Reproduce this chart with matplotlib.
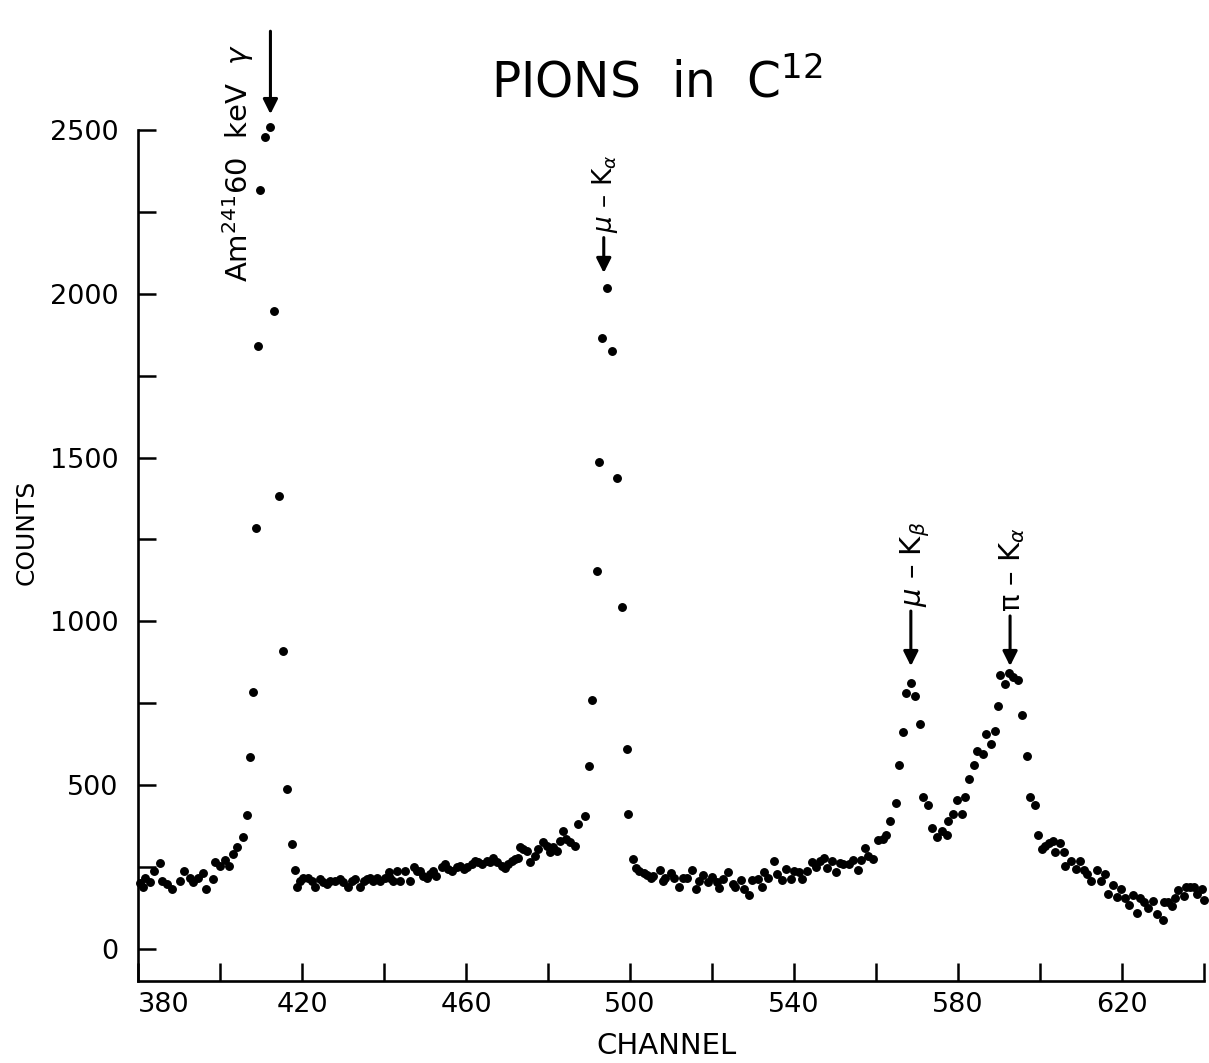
import numpy as np
import matplotlib
matplotlib.use('Agg')
import matplotlib.pyplot as plt

# ─── DATA ────────────────────────────────────────────────────────────────────
# pico Am241 + fundo 380-418
ch_am = [380.4, 381.1, 381.7, 382.9, 383.9, 385.4, 385.8, 387.0, 388.2, 390.2,
         391.3, 392.7, 393.5, 394.7, 395.9, 396.7, 398.4, 398.8, 400.0, 401.2,
         402.3, 403.2, 404.2, 405.5, 406.5, 407.3, 408.1, 408.9, 409.3, 409.8,
         411.0, 412.3, 413.1, 414.3, 415.4, 416.4, 417.5, 418.2]
ct_am = [200, 190, 218, 203, 237, 261, 208, 198, 182, 208,
         239, 218, 203, 218, 232, 184, 213, 266, 254, 271,
         254, 290, 310, 341, 410, 587, 784, 1285, 1840, 2317,
         2478, 2510, 1947, 1383, 909, 487, 321, 242]

# fundo 418-489
ch_bg1 = [418.7, 419.5, 420.3, 421.5, 422.4, 423.2, 424.4, 425.2, 426.0, 426.8,
          428.0, 429.3, 430.1, 431.3, 432.1, 432.9, 434.1, 435.0, 435.8, 436.6,
          437.4, 438.2, 439.0, 440.2, 441.1, 441.5, 442.3, 443.1, 443.9, 445.1,
          446.3, 447.2, 448.0, 448.8, 449.6, 450.4, 451.2, 452.0, 452.8, 454.1,
          454.9, 455.7, 456.5, 457.7, 458.5, 459.4, 460.2, 461.4, 462.2, 463.0,
          463.8, 465.0, 465.9, 466.7, 467.5, 468.7, 469.5, 470.3, 471.1, 471.9,
          472.8, 473.2, 474.0, 474.8, 475.6, 476.8, 477.6, 478.9, 479.7, 480.5,
          481.3, 482.1, 482.9, 483.7, 484.5, 485.4, 486.6, 487.4, 489.0]
ct_bg1 = [188, 208, 218, 218, 208, 188, 213, 203, 198, 208,
          208, 213, 203, 190, 208, 213, 190, 208, 213, 218,
          208, 218, 208, 218, 234, 218, 208, 239, 208, 239,
          208, 249, 239, 237, 223, 218, 228, 239, 223, 249,
          259, 244, 239, 249, 254, 244, 249, 259, 269, 264,
          259, 269, 264, 279, 264, 254, 247, 259, 269, 274,
          279, 310, 305, 300, 264, 285, 305, 325, 315, 295,
          310, 300, 330, 361, 336, 325, 315, 382, 407]

# pico mu-Ka
ch_mka = [490.1, 490.8, 491.9, 492.5, 493.1, 494.3, 495.7, 496.8, 498.0, 499.2, 499.6]
ct_mka = [557, 760, 1155, 1486, 1864, 2017, 1825, 1438, 1043, 611, 413]

# fundo 500-565
ch_bg2 = [500.7, 501.5, 502.3, 503.3, 504.1, 505.0, 505.7, 507.2, 508.0, 508.5,
          509.9, 510.7, 512.0, 513.0, 513.8, 515.0, 516.1, 516.8, 517.9, 519.1,
          519.9, 521.1, 521.8, 522.8, 524.0, 525.2, 525.6, 527.0, 527.8, 529.1,
          529.7, 531.1, 532.1, 532.7, 533.7, 535.0, 535.8, 537.0, 538.0, 539.2,
          540.0, 541.1, 541.9, 543.1, 544.3, 545.4, 546.3, 547.2, 548.1, 549.2,
          550.2, 551.2, 552.0, 553.3, 554.3, 555.7, 556.3, 557.3, 558.1, 559.3,
          560.6, 561.8, 562.4, 563.4, 564.9]
ct_bg2 = [274, 247, 239, 231, 227, 216, 223, 241, 206, 218,
          231, 216, 188, 216, 216, 241, 182, 208, 227, 203,
          221, 203, 186, 213, 234, 198, 188, 210, 182, 165,
          210, 213, 190, 234, 216, 267, 228, 210, 244, 213,
          239, 234, 213, 239, 264, 249, 267, 277, 246, 269,
          236, 261, 259, 259, 272, 241, 272, 308, 284, 274,
          333, 336, 349, 390, 445]

# picos mu-Kb e pi-Ka
ch_pk = [565.6, 566.5, 567.2, 568.5, 569.5, 570.7, 571.4, 572.8, 573.6, 574.8,
         576.0, 577.2, 577.6, 578.7, 579.7, 580.9, 581.7, 582.7, 583.9, 584.7,
         586.0, 586.8, 588.0, 589.0, 589.8, 590.2, 591.5, 592.5, 593.5, 594.7,
         595.7, 596.8, 597.6, 598.8, 599.6]
ct_pk = [562, 662, 782, 813, 771, 688, 463, 438, 369, 341,
         361, 348, 392, 412, 455, 412, 463, 519, 563, 603,
         596, 655, 626, 665, 741, 835, 810, 842, 830, 822,
         713, 588, 463, 438, 349]

# cauda 600-640
ch_tail = [600.4, 601.2, 602.3, 603.1, 603.7, 604.9, 605.9, 606.2, 607.5, 608.8,
           609.8, 610.7, 611.4, 612.4, 613.8, 614.9, 615.9, 616.7, 617.7, 618.9,
           619.7, 620.7, 621.7, 622.6, 623.6, 624.4, 625.4, 626.4, 627.6, 628.5,
           629.9, 630.2, 631.3, 632.1, 632.9, 633.7, 635.0, 635.5, 636.6, 637.6,
           638.4, 639.4, 640.0]
ct_tail = [305, 315, 322, 328, 295, 322, 295, 254, 269, 244,
           267, 241, 229, 208, 241, 208, 230, 167, 196, 157,
           183, 155, 135, 164, 110, 154, 142, 125, 145, 106,
           88, 142, 142, 132, 155, 180, 162, 188, 190, 188,
           167, 183, 149]

channel = np.array(ch_am + ch_bg1 + ch_mka + ch_bg2 + ch_pk + ch_tail)
counts = np.array(ct_am + ct_bg1 + ct_mka + ct_bg2 + ct_pk + ct_tail)

W, H = 1209, 1063
fig = plt.figure(figsize=(W / 100, H / 100), dpi=100)
ax = fig.add_axes([138 / W, 1 - 980.7 / H, (1204 - 138) / W, (980.7 - 130) / H])

ax.plot(channel, counts, 'o', color='k', markersize=5.4, clip_on=False)

ax.set_xlim(380, 640)
ax.set_ylim(-97, 2500)
for s in ['top', 'right']:
    ax.spines[s].set_visible(False)
for s in ['left', 'bottom']:
    ax.spines[s].set_linewidth(1.9)

xt = np.arange(380, 641, 20)
ax.set_xticks(xt)
ax.set_xticklabels([str(v) if (v - 380) % 40 == 0 else '' for v in xt])
ax.get_xticklabels()[0].set_ha('left')
yt = np.arange(0, 2501, 250)
ax.set_yticks(yt)
ax.set_yticklabels([str(v) if v % 500 == 0 else '' for v in yt])
ax.tick_params(axis='both', direction='in', length=13, width=1.8, labelsize=19.5)
ax.tick_params(axis='y', pad=14)
ax.tick_params(axis='x', pad=8)

fig.text(27 / W, 1 - 532 / H, "COUNTS", rotation=90, ha='center', va='center', fontsize=18)
fig.text(666 / W, 1 - 1046 / H, "CHANNEL", ha='center', va='center', fontsize=21)
fig.text(657 / W, 1 - 98 / H, r"PIONS  in  C$^{12}$", ha='center', va='baseline', fontsize=35)

# anotacoes
arw = dict(arrowstyle='-|>', color='k', lw=2.2, mutation_scale=22)
ax.text(404.3, 2035, r"Am$^{241}$60  keV  $\gamma$", rotation=90, ha='center', va='bottom',
        fontsize=21, clip_on=False)
ax.annotate('', xy=(412.3, 2540), xytext=(412.3, 2810), arrowprops=arw, annotation_clip=False)

ax.text(493.9, 2185, r"$\mu$ – K$_\alpha$", rotation=90, ha='center', va='bottom', fontsize=19)
ax.annotate('', xy=(493.6, 2055), xytext=(493.6, 2180), arrowprops=arw)

ax.text(569.5, 1045, r"$\mu$ – K$_\beta$", rotation=90, ha='center', va='bottom', fontsize=21)
ax.annotate('', xy=(568.5, 855), xytext=(568.5, 1040), arrowprops=arw)

ax.text(593.3, 1030, r"π – K$_\alpha$", rotation=90, ha='center', va='bottom', fontsize=21)
ax.annotate('', xy=(592.7, 855), xytext=(592.7, 1025), arrowprops=arw)

fig.savefig("out.png", dpi=100)
